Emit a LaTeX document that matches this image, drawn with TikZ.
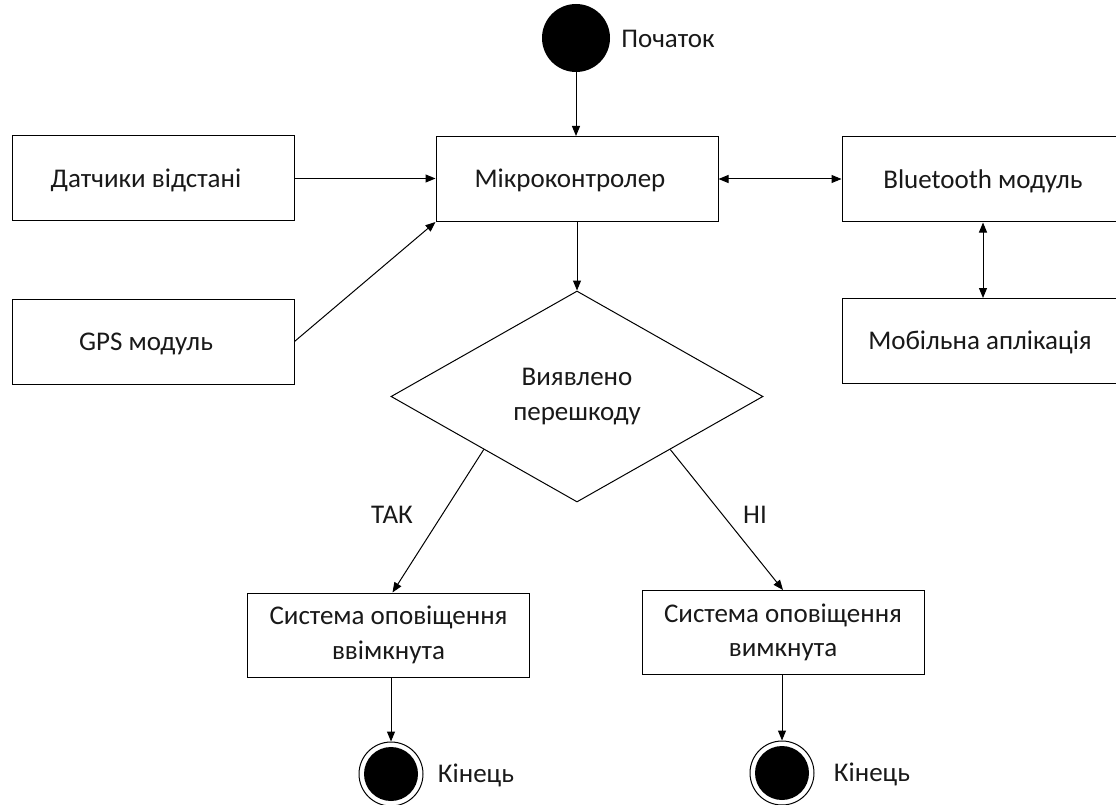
\documentclass[tikz,border=0pt]{standalone}
\usepackage{fontspec}
\setmainfont{Carlito}
\usetikzlibrary{arrows.meta,shapes.geometric}
\begin{document}
\begin{tikzpicture}[x=1pt,y=-1pt,
  txt/.style={font=\fontsize{27}{34.5}\selectfont, text=black!90},
  box/.style={txt, draw, line width=1pt, rectangle, minimum width=282pt, minimum height=85pt, inner sep=0pt, align=center},
  one/.style={text height=17.4pt, text depth=0pt},
  lshift/.style={execute at end node={\hspace*{#1}}},
  lbl/.style={txt, inner sep=0pt, text height=17.4pt, text depth=0pt},
  conn/.style={line width=1pt, -{Triangle[length=10pt,width=8pt]}},
  dconn/.style={line width=1pt, {Triangle[length=10pt,width=8pt]}-{Triangle[length=10pt,width=8pt]}}]
\useasboundingbox (0,0) rectangle (1116,805);
\fill[white] (0,0) rectangle (1116,805);
% start
\node[circle, fill=black, minimum size=68pt, inner sep=0pt] (start) at (576,38) {};
\node[lbl] (startl) at (668,39) {Початок};
% boxes
\node[box, one, lshift=14pt] (mik) at (577,179) {Мікроконтролер};
\node[box, one, lshift=14pt] (dat) at (153,178.5) {Датчики відстані};
\node[box, one, lshift=14pt] (gps) at (153,341.5) {GPS модуль};
\node[box, one] (bt) at (983,179.5) {Bluetooth модуль};
\node[box, one, lshift=6pt] (mob) at (983,341) {Мобільна аплікація};
% decision
\node[txt, draw, line width=1pt, diamond, minimum width=372pt, minimum height=211pt, inner sep=0pt, align=center] (dec) at (577,396.5) {Виявлено\\перешкоду};
% results
\node[box, minimum height=84pt] (on) at (388.5,635) {Система оповіщення\\ввімкнута};
\node[box, minimum height=84pt] (off) at (783,632.5) {Система оповіщення\\вимкнута};
% ends
\node[circle, draw, line width=1pt, minimum size=64pt, inner sep=0pt] (end1) at (391,774) {};
\fill (end1.center) circle (27pt);
\node[circle, draw, line width=1pt, minimum size=64pt, inner sep=0pt] (end2) at (782,773) {};
\fill (end2.center) circle (27pt);
\node[lbl] (endl1) at (476,774) {Кінець};
\node[lbl] (endl2) at (872,773) {Кінець};
% labels
\node[lbl] (yes) at (392,515) {ТАК};
\node[lbl] (no) at (755,515) {НІ};
% connectors
\draw[conn] (start) -- (start |- mik.north);
\draw[conn] (dat.east) -- (dat.east -| mik.west);
\draw[conn] (gps.east) -- (mik.south west);
\draw[dconn] (mik.east) -- (mik.east -| bt.west);
\draw[dconn] (bt.south) -- (mob.north);
\draw[conn] (dec.north |- mik.south) -- (dec.north);
\draw[conn] (dec.south west) -- ([xshift=4pt]on.north);
\draw[conn] (dec.south east) -- (off.north);
\draw[conn] ([xshift=2.5pt]on.south) -- (end1);
\draw[conn] ([xshift=-1pt]off.south) -- (end2);
\end{tikzpicture}
\end{document}
